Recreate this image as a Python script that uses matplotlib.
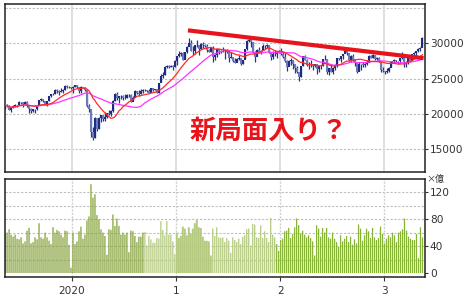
import matplotlib
matplotlib.use("Agg")
import matplotlib.pyplot as plt
import numpy as np
import pandas as pd

# weekly bars, first week starting 2019-05-13
start_week = "2019-05-13"

close = [
    # 2019
    21250, 21117, 20601, 20885, 21117, 21259, 21276, 21746, 21686, 21467, 21658, 21088, 20685, 20419,
    20711, 20704, 21199, 21988, 22079, 21879, 21410, 21799, 22492, 22800, 22851, 23391, 23303, 23113,
    23294, 23354, 24023, 23816, 23837,
    # 2020
    23657, 23850, 24041, 23827, 23205, 23828, 23688, 23387, 21143, 20750, 17431, 16553, 19389, 17820,
    19499, 19897, 19262, 19619, 20179, 20037, 20388, 21878, 22864, 22305, 22479, 22512, 22306, 22291,
    22696, 22751, 21710, 22330, 23289, 22920, 22882, 23205, 23406, 23360, 23205, 23030, 23620, 23411,
    23517, 22977, 24325, 25385, 25527, 26644, 26751, 26653, 26763, 26657, 27444,
    # 2021
    28139, 28519, 28631, 27663, 28779, 29520, 30018, 28966, 28864, 29717, 29792, 29177, 29854, 29768,
    29683, 29021, 28813, 29358, 28084, 28318, 29149, 28942, 28949, 28964, 29066, 28783, 27940, 28003,
    27548, 27284, 27820, 27977, 27013, 27641, 29128, 30382, 30500, 30249, 28771, 28049, 29069, 28805,
    28893, 29612, 29610, 29746, 28752, 28030, 28438, 28546, 28782, 28792,
    # 2022
    28479, 28124, 27522, 26717, 27440, 27697, 27122, 26477, 25985, 25163, 26827, 28150, 27666, 26986,
    27093, 27105, 26848, 27004, 26428, 26739, 26782, 27762, 27824, 25963, 26491, 25936, 26517, 26788,
    27915, 27802, 28176, 28547, 28930, 28641, 27651, 28215, 27568, 27154, 25937, 27116, 27091, 26891,
    27105, 27200, 28264, 27900, 28283, 27778, 27901, 27527, 26235, 26095,
    # 2023
    25974, 26120, 26554, 27383, 27510, 27671, 27514, 27454, 27928, 28144, 27334, 27385, 28041, 27518,
    28493, 28564, 28856, 29158, 29388, 30808,
]

high = [
    21430, 21450, 21280, 20900, 21260, 21460, 21340, 21780, 21740, 21700, 21820, 21790, 21040, 20800,
    20760, 20720, 21240, 22020, 22250, 22100, 21900, 21830, 22530, 22830, 22990, 23590, 23520, 23420,
    23620, 23520, 24090, 24070, 23940,
    23840, 23900, 24090, 24120, 23640, 23990, 23870, 23750, 23130, 21400, 20350, 18180, 19560, 19160,
    19520, 19920, 19880, 20260, 20200, 20570, 20600, 21970, 22910, 23180, 22580, 22710, 22640, 22820,
    22890, 22880, 22840, 22500, 23340, 23290, 23400, 23470, 23570, 23590, 23430, 23600, 23650, 23720,
    23600, 23570, 24330, 25660, 26010, 26770, 26900, 26890, 26910, 26900, 27600,
    28180, 28980, 28820, 28820, 28830, 29620, 30710, 30470, 29660, 29770, 30480, 29500, 30070, 30170,
    29860, 29870, 29240, 29520, 29690, 28480, 29230, 29240, 29060, 29480, 29100, 29130, 28850, 28760,
    27990, 27970, 27920, 28280, 27830, 27680, 29130, 30410, 30800, 30640, 30240, 28900, 29140, 29490,
    29110, 29880, 29700, 29960, 29810, 28800, 28960, 28990, 28900, 29120,
    29390, 28820, 28570, 27660, 27600, 27880, 27480, 26930, 26840, 26000, 26830, 28240, 28340, 27810,
    27310, 27580, 27000, 27070, 27140, 26750, 26960, 27840, 28390, 27770, 26560, 27060, 26580, 27070,
    27950, 27920, 28180, 28550, 29220, 28790, 28250, 28290, 28500, 27500, 27150, 27400, 27090, 27300,
    27200, 27660, 28360, 28310, 28500, 28380, 28040, 28130, 27530, 26580,
    26100, 26450, 26620, 27400, 27520, 27710, 27630, 27530, 27940, 28730, 28110, 27510, 28100, 28300,
    28520, 28780, 28890, 29280, 29430, 30920,
]

low = [
    20750, 21000, 20550, 20290, 20860, 20950, 21010, 21530, 21380, 20990, 21400, 21000, 20110, 20180,
    20300, 20170, 20540, 21300, 21900, 21750, 21280, 21150, 21900, 22450, 22700, 22850, 23000, 22730,
    23180, 23040, 23330, 23690, 23730,
    23600, 22950, 23790, 23700, 22990, 22920, 23610, 23210, 20920, 20280, 16690, 16360, 16550, 17650,
    17880, 18900, 19040, 19040, 19370, 19900, 19760, 20340, 21900, 21980, 21530, 22060, 21960, 22160,
    22270, 22450, 21710, 21820, 22360, 22800, 22610, 22880, 23040, 23250, 23090, 22950, 23060, 23320,
    23360, 22950, 22950, 24470, 25160, 25580, 26500, 26470, 26620, 26240, 26700,
    26960, 28030, 28240, 27630, 27920, 28680, 29560, 28960, 28310, 28520, 29480, 28370, 29180, 29390,
    29430, 28760, 28730, 28820, 27390, 27680, 28070, 28550, 28600, 28800, 27800, 28620, 27420, 27940,
    27330, 27270, 27380, 27700, 26950, 27010, 27740, 29090, 30160, 29450, 28690, 27290, 28200, 28660,
    28480, 29200, 29230, 29390, 28600, 27590, 27810, 28210, 27890, 28650,
    28390, 27900, 27310, 26040, 26890, 26970, 26430, 25780, 25760, 24680, 25280, 26860, 27600, 26760,
    26430, 26590, 26250, 26600, 25690, 26000, 26340, 26730, 27650, 25690, 25520, 25930, 25720, 26250,
    26680, 27600, 27320, 27780, 28650, 28390, 27560, 27400, 27520, 26850, 25860, 26070, 26240, 26690,
    26700, 26920, 27350, 27860, 27870, 27640, 27570, 27380, 26000, 25950,
    25660, 25840, 25990, 26610, 27150, 27240, 27350, 27110, 27250, 27820, 26630, 26630, 27140, 27430,
    27480, 28400, 28240, 28800, 28940, 29450,
]

# volume (x 億)
volume = [
    58, 60, 65, 57, 54, 57, 51, 50, 53, 44, 47, 63, 67, 44, 46, 53, 50, 74, 53, 51, 60, 53, 48, 43,
    68, 60, 64, 62, 57, 53, 63, 62, 42, 8, 60, 43, 47, 62, 69, 51, 57, 78, 84, 132, 112, 117, 86, 80,
    65, 60, 55, 27, 65, 64, 87, 70, 81, 70, 57, 60, 57, 60, 31, 63, 62, 55, 46, 54, 54, 60, 61, 41,
    55, 50, 45, 45, 52, 51, 77, 64, 56, 77, 57, 57, 47, 28, 60, 52, 55, 69, 66, 56, 68, 59, 66, 74,
    79, 68, 67, 54, 48, 48, 47, 26,
    66, 55, 68, 53, 52, 53, 46, 52, 48, 30, 53, 49, 46, 51, 43, 54, 56, 65, 66, 41, 73, 72, 53, 52,
    71, 52, 62, 52, 46, 82, 57, 53, 43, 33, 49, 51, 62, 63, 67, 52, 58, 68, 81, 71, 59, 63, 57, 53,
    56, 52, 47, 26, 71, 66, 54, 67, 60, 67, 53, 51, 60, 51, 46, 39, 56, 47, 51, 55, 46, 54, 42, 50,
    44, 72, 66, 48, 56, 66, 62, 52, 67, 53, 49, 52, 69, 58, 44, 51, 56, 53, 60, 56, 46, 60, 62, 65,
    81, 63, 54, 51, 49, 49, 58, 22, 68, 53,
]

# trend line end points
trend_dates = ["2021-02-12", "2023-05-19"]
trend_vals = [31830, 27900]

year_ticks = ["2020-01-01", "2021-01-01", "2022-01-01", "2023-01-01"]
year_labels = ["2020", "1", "2", "3"]

dates = pd.date_range(start_week, periods=len(close), freq="7D")
s = pd.Series(close, index=dates)
ma13 = s.rolling(13, min_periods=1).mean()
ma26 = s.rolling(26, min_periods=1).mean()
opens = s.shift(1).fillna(s.iloc[0])

fig = plt.figure(figsize=(4.70, 2.95), dpi=100)
ax = fig.add_axes([0.0096, 0.4169, 0.8947, 0.5695])
axv = fig.add_axes([0.0096, 0.060, 0.8947, 0.3322], sharex=ax)

grid_dash = dict(color="#bdbdbd", linestyle=(0, (2, 1.5)), linewidth=0.8)

# price panel
for yv in [15000, 20000, 25000, 30000, 35000]:
    ax.axhline(yv, zorder=0, **grid_dash)
for d in year_ticks:
    ax.axvline(pd.Timestamp(d), color="#dcdcdc", linewidth=1.3, zorder=0)

up = s.values >= opens.values
ax.vlines(dates, low, high, color="#25358a", linewidth=0.9, zorder=2)
ax.vlines(dates[up], opens.values[up], s.values[up], color="#1c2a80", linewidth=1.5, zorder=3)
ax.vlines(dates[~up], opens.values[~up], s.values[~up], color="#6d7cb8", linewidth=1.5, zorder=3)

ax.plot(dates, ma26, color="#ff33ff", linewidth=0.9, zorder=4)
ax.plot(dates, ma13, color="#ff2a2a", linewidth=0.9, zorder=4)
ax.plot(pd.to_datetime(trend_dates), trend_vals, color="#e8141c", linewidth=3, zorder=5,
        solid_capstyle="butt")

ax.text(0.628, 0.24, "新局面入り？", transform=ax.transAxes, ha="center", va="center",
        fontsize=19, fontweight="bold", color="#e8141c", family=["Noto Sans CJK JP", "DejaVu Sans"])

ax.set_ylim(11790, 35560)
ax.set_yticks([15000, 20000, 25000, 30000])
ax.yaxis.tick_right()
ax.tick_params(axis="y", length=2, pad=1.5, labelsize=7.6, colors="#333333")
ax.tick_params(axis="x", length=0, labelbottom=False)

# volume panel
n = len(volume)
vol_colors = ["#84a23a" if i < 70 else ("#b4ca80" if i < 136 else "#88b436") for i in range(n)]
vol_width = [7.0 if 86 <= i < 104 else 4.4 for i in range(n)]
for yv in range(20, 140, 20):
    axv.axhline(yv, zorder=0, **grid_dash)
for d in year_ticks:
    axv.axvline(pd.Timestamp(d), color="#d0d0d0", linewidth=1.0, linestyle=(0, (1.5, 1)), zorder=0)
axv.bar(dates, volume, width=vol_width, color=vol_colors, linewidth=0, snap=False, zorder=2)
axv.set_ylim(-6.4, 139.3)
axv.set_yticks([0, 40, 80, 120])
axv.yaxis.tick_right()
axv.tick_params(axis="y", length=2, pad=1.5, labelsize=7.6, colors="#333333")
axv.set_xticks(pd.to_datetime(year_ticks))
axv.set_xticklabels(year_labels)
axv.tick_params(axis="x", length=3, pad=3, labelsize=7.6, colors="#333333")
axv.text(1.004, 1.0, "×億", transform=axv.transAxes, ha="left", va="center", fontsize=6.5,
         color="#333333", family=["Noto Sans CJK JP", "DejaVu Sans"])

axv.set_xlim(pd.Timestamp("2019-05-11"), pd.Timestamp("2023-05-24"))

for a in (ax, axv):
    for sp in a.spines.values():
        sp.set_color("#222222")
        sp.set_linewidth(1.1)

fig.savefig("out.png", dpi=100)
